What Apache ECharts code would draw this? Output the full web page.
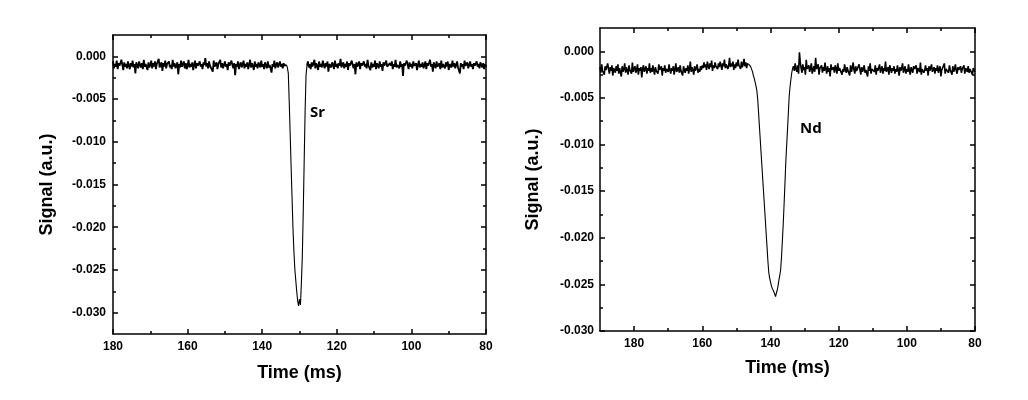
<!DOCTYPE html>
<html>
<head>
<meta charset="utf-8">
<script src="https://cdn.jsdelivr.net/npm/echarts@6/dist/echarts.min.js"></script>
<style>
html,body{margin:0;padding:0;background:#fff;}
#chart{width:1028px;height:400px;}
</style>
</head>
<body>
<div id="chart"></div>
<script>
// ---- Data (signal values in units of 1e-4 a.u.) ----
// Left panel (Sr): samples every 0.25 ms from 180 ms down to 80 ms
const leftStart = 180, leftStep = 0.25;
const leftBefore_e4 = [ // 180 -> 133.5 ms
-6,-14,-9,-12,-5,-15,-8,-11,-13,-4,-10,-16,-7,-12,-9,-14,-6,-11,-15,-8,
-12,-5,-13,-9,-20,-7,-11,-14,-6,-10,-13,-8,-15,-4,-12,-9,-11,-16,-7,-13,
-10,-5,-14,-8,-12,-6,-15,-9,-11,-3,-13,-10,-7,-17,-8,-12,-5,-14,-9,-11,
-6,-13,-10,-15,-4,-12,-8,-14,-11,-7,-21,-9,-13,-5,-12,-10,-6,-14,-8,-15,
-11,-4,-13,-9,-12,-7,-16,-10,-5,-14,-8,-11,-13,-6,-12,-9,-15,-7,-10,-2,
-12,-8,-14,-6,-11,-13,-9,-18,-5,-12,-10,-7,-15,-9,-11,-4,-13,-8,-14,-10,
-6,-12,-9,-16,-7,-11,-13,-5,-10,-14,-8,-22,-9,-12,-6,-15,-10,-7,-13,-11,
-5,-14,-9,-12,-7,-15,-10,-4,-13,-8,-11,-16,-6,-12,-9,-14,-7,-10,-13,-5,
-12,-9,-15,-7,-11,-14,-6,-13,-10,-8,-19,-9,-12,-5,-14,-10,-7,-13,-11,-6,
-12,-9,-14,-8,-11,-13,-10
];
const leftDip_e4 = [ // 133.25 -> 128.25 ms
-13,-20,-54,-91,-129,-165,-201,-228,-249,-262,-275,-286,-292,-284,-291,-266,-235,-183,-124,-65,-22
];
const leftAfter_e4 = [ // 128.0 -> 80 ms
-11,-6,-13,-9,-15,-7,-12,-10,-4,-14,-8,-11,-16,-6,-12,-9,-13,-5,-10,-14,
-8,-12,-6,-18,-9,-11,-13,-7,-10,-15,-5,-12,-9,-14,-8,-11,-3,-13,-10,-7,
-14,-9,-12,-6,-16,-8,-11,-13,-5,-10,-14,-9,-21,-7,-12,-10,-6,-15,-8,-11,
-13,-6,-12,-9,-14,-4,-11,-10,-16,-7,-13,-9,-12,-5,-15,-8,-10,-14,-6,-12,
-9,-17,-7,-11,-13,-5,-12,-10,-14,-8,-11,-6,-15,-9,-12,-4,-13,-10,-8,-14,
-6,-12,-9,-23,-8,-11,-13,-5,-10,-15,-7,-12,-9,-14,-6,-11,-13,-8,-16,-10,
-5,-13,-9,-12,-7,-14,-10,-6,-15,-8,-11,-13,-4,-12,-9,-18,-7,-11,-14,-6,
-12,-10,-8,-15,-5,-13,-9,-11,-14,-7,-12,-6,-16,-9,-10,-13,-5,-12,-8,-14,
-10,-6,-13,-11,-20,-8,-12,-9,-15,-5,-11,-13,-7,-14,-10,-6,-12,-9,-15,-8,
-11,-13,-6,-12,-9,-14,-7,-10,-13,-8,-15,-9,-12
];
// Right panel (Nd): samples every 0.25 ms from 190 ms down to 80 ms
const rightStart = 190, rightStep = 0.25;
const rightBefore_e4 = [ // 190 -> 146.25 ms
-17,-23,-14,-21,-19,-25,-16,-20,-22,-13,-19,-24,-17,-21,-15,-26,-18,-20,-23,-16,
-21,-14,-24,-18,-20,-27,-16,-22,-19,-13,-23,-17,-21,-25,-15,-20,-18,-24,-12,-22,
-19,-16,-23,-20,-14,-25,-18,-21,-17,-28,-19,-15,-22,-20,-16,-24,-18,-21,-13,-23,
-18,-22,-15,-20,-25,-17,-21,-19,-24,-14,-20,-22,-16,-26,-18,-21,-15,-23,-19,-17,
-22,-14,-20,-24,-18,-21,-16,-25,-19,-13,-22,-20,-17,-23,-15,-21,-19,-26,-16,-20,
-23,-18,-21,-15,-24,-19,-11,-22,-17,-20,-25,-16,-21,-18,-14,-23,-19,-22,-16,-20,
-15,-18,-12,-17,-14,-20,-11,-16,-19,-13,-17,-10,-21,-15,-18,-12,-16,-14,-19,-13,
-17,-11,-15,-20,-13,-16,-9,-18,-14,-12,-19,-15,-7,-17,-13,-16,-11,-20,-14,-18,
-12,-16,-9,-15,-13,-19,-11,-17,-14,-8,-16,-12,-18,-13,-15,-14
];
const rightDip_e4 = [ // 146.0 -> 133.5 ms
-15,-17,-19,-22,-26,-29,-33,-37,-42,-51,-65,-80,-94,-109,-123,-138,-152,-167,-181,-196,
-210,-225,-237,-243,-247,-251,-254,-256,-258,-260,-263,-259,-256,-251,-245,-240,-234,-220,-203,-185,
-164,-142,-119,-101,-84,-66,-48,-38,-30,-23,-18
];
const rightAfter_e4 = [ // 133.25 -> 80 ms
-16,-21,-13,-19,-22,-15,-24,-1,-12,-18,-23,-14,-20,-17,-25,-9,-19,-21,-15,-22,
-18,-13,-24,-20,-16,-22,-7,-19,-21,-14,-25,-18,-20,-15,-23,-17,-21,-12,-19,-24,
-16,-22,-18,-27,-14,-20,-21,-17,-23,-15,-19,-24,-13,-21,-18,-20,-16,-25,-19,-22,
-14,-20,-23,-17,-21,-19,-26,-15,-22,-18,-12,-20,-24,-16,-21,-19,-23,-14,-20,-25,
-17,-22,-19,-15,-23,-20,-18,-27,-16,-21,-13,-24,-19,-20,-17,-22,-15,-25,-18,-21,
-20,-14,-23,-19,-16,-24,-18,-21,-11,-22,-20,-17,-25,-15,-19,-23,-18,-21,-16,-24,
-19,-22,-15,-20,-26,-17,-21,-18,-13,-23,-20,-16,-24,-19,-22,-14,-21,-25,-17,-20,
-23,-16,-19,-21,-15,-24,-18,-20,-22,-12,-25,-19,-17,-23,-20,-15,-21,-18,-26,-16,
-21,-19,-14,-22,-20,-17,-24,-18,-21,-15,-23,-19,-16,-27,-20,-18,-22,-13,-24,-19,
-17,-21,-23,-15,-20,-18,-25,-16,-22,-19,-14,-21,-24,-17,-20,-22,-16,-23,-19,-21,
-15,-24,-18,-20,-22,-16,-23,-19,-21,-17,-25,-18,-20,-22
];
// Tick values
const xMajorTicks = [180, 160, 140, 120, 100, 80];
const xMinorTicks = [170, 150, 130, 110, 90];
const yMajorTicks = [0, -0.005, -0.010, -0.015, -0.020, -0.025, -0.030];
const yMinorTicks = [-0.0025, -0.0075, -0.0125, -0.0175, -0.0225, -0.0275];
const labels = ['Sr', 'Nd'];
const xTitle = 'Time (ms)';
const yTitle = 'Signal (a.u.)';

// Build [time, signal] pairs for a segment starting at sample index i0
function toPairs(start, step, vals, i0) {
  return vals.map((v, i) => [start - step * (i + i0), v * 1e-4]);
}
function segments(start, step, before, dip, after) {
  const a = toPairs(start, step, before, 0);
  const d = toPairs(start, step, dip, before.length);
  const b = toPairs(start, step, after, before.length + dip.length);
  // the dip segment is joined to the neighbouring baseline samples
  return { before: a, dip: [a[a.length - 1]].concat(d, [b[0]]), after: b };
}
const L = segments(leftStart, leftStep, leftBefore_e4, leftDip_e4, leftAfter_e4);
const R = segments(rightStart, rightStep, rightBefore_e4, rightDip_e4, rightAfter_e4);

const FONT = '"Liberation Sans", Arial, sans-serif';
const lineStyle = { color: '#000', width: 1.5 };
const tickStyle = { color: '#000', width: 1.5 };

function xAxes(grid, min, max, nameGap) {
  const base = { type: 'value', gridIndex: grid, min: min, max: max, inverse: true, interval: 10,
    splitLine: { show: false }, axisLine: { onZero: false, show: true, lineStyle: lineStyle } };
  return [
    Object.assign({}, base, {
      position: 'bottom',
      name: xTitle, nameLocation: 'middle', nameGap: nameGap,
      nameTextStyle: { fontFamily: FONT, fontWeight: 'bold', fontSize: 18, color: '#000' },
      axisTick: { show: true, inside: true, length: 5, customValues: xMajorTicks, lineStyle: tickStyle },
      axisLabel: { show: true, customValues: xMajorTicks, margin: 7, fontFamily: FONT, fontWeight: 'bold', fontSize: 12, color: '#000',
        formatter: v => String(v) }
    }),
    Object.assign({}, base, { position: 'bottom', axisLine: { onZero: false, show: false },
      axisTick: { show: true, inside: true, length: 3, customValues: xMinorTicks, lineStyle: tickStyle },
      axisLabel: { show: false } }),
    Object.assign({}, base, { position: 'top',
      axisTick: { show: true, inside: true, length: 5, customValues: xMajorTicks, lineStyle: tickStyle },
      axisLabel: { show: false } }),
    Object.assign({}, base, { position: 'top', axisLine: { onZero: false, show: false },
      axisTick: { show: true, inside: true, length: 3, customValues: xMinorTicks, lineStyle: tickStyle },
      axisLabel: { show: false } })
  ];
}
function yAxes(grid, min, max, nameGap, margin) {
  const base = { type: 'value', gridIndex: grid, min: min, max: max, interval: 0.0025,
    splitLine: { show: false }, axisLine: { onZero: false, show: true, lineStyle: lineStyle } };
  return [
    Object.assign({}, base, {
      position: 'left',
      name: yTitle, nameLocation: 'middle', nameGap: nameGap, nameRotate: 90,
      nameTextStyle: { fontFamily: FONT, fontWeight: 'bold', fontSize: 18, color: '#000' },
      axisTick: { show: true, inside: true, length: 5, customValues: yMajorTicks, lineStyle: tickStyle },
      axisLabel: { show: true, customValues: yMajorTicks, margin: margin, fontFamily: FONT, fontWeight: 'bold', fontSize: 12, color: '#000',
        formatter: v => Number(v).toFixed(3) }
    }),
    Object.assign({}, base, { position: 'left', axisLine: { onZero: false, show: false },
      axisTick: { show: true, inside: true, length: 3, customValues: yMinorTicks, lineStyle: tickStyle },
      axisLabel: { show: false } }),
    Object.assign({}, base, { position: 'right',
      axisTick: { show: true, inside: true, length: 5, customValues: yMajorTicks, lineStyle: tickStyle },
      axisLabel: { show: false } }),
    Object.assign({}, base, { position: 'right', axisLine: { onZero: false, show: false },
      axisTick: { show: true, inside: true, length: 3, customValues: yMinorTicks, lineStyle: tickStyle },
      axisLabel: { show: false } })
  ];
}

function lineSeries(xi, data, width) {
  return { type: 'line', xAxisIndex: xi, yAxisIndex: xi, data: data, showSymbol: false, symbol: 'none',
    lineStyle: { color: '#000', width: width }, sampling: null, z: 3 };
}

const chart = echarts.init(document.getElementById('chart'), null, { renderer: 'canvas' });
const option = {
  animation: false,
  backgroundColor: '#fff',
  grid: [
    { left: 113, top: 35, width: 373, height: 299, outerBoundsMode: 'none' },
    { left: 600, top: 28, width: 375, height: 303, outerBoundsMode: 'none' }
  ],
  xAxis: [].concat(xAxes(0, 80, 180, 30), xAxes(1, 80, 190, 28)),
  yAxis: [].concat(yAxes(0, -0.0325, 0.0025, 57, 7), yAxes(1, -0.030, 0.0025, 58, 6)),
  series: [
    lineSeries(0, L.before, 1.8), lineSeries(0, L.dip, 1.1), lineSeries(0, L.after, 1.8),
    lineSeries(4, R.before, 1.6), lineSeries(4, R.dip, 1.1), lineSeries(4, R.after, 1.6)
  ],
  graphic: [
    { type: 'text', left: 310, top: 105, style: { text: labels[0], font: 'bold 15px "Noto Sans", sans-serif', fill: '#000' } },
    { type: 'text', left: 800, top: 121, style: { text: labels[1], font: 'bold 15px "Noto Sans", sans-serif', fill: '#000' } }
  ]
};
chart.setOption(option);
</script>
</body>
</html>
